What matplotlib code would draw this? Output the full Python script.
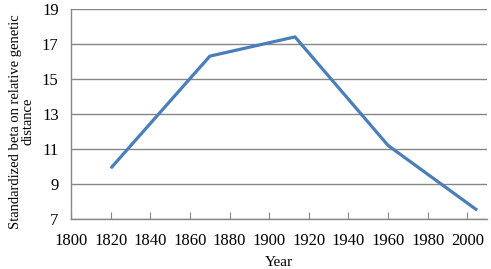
import matplotlib.pyplot as plt

# Data
years = [1820, 1870, 1913, 1960, 2005]
beta = [9.9, 16.3, 17.4, 11.2, 7.5]
xticks = list(range(1800, 2001, 20))
yticks = list(range(7, 20, 2))

plt.rcParams['font.family'] = ['Liberation Serif', 'DejaVu Serif']

fig = plt.figure(figsize=(4.91, 2.69), dpi=100)
ax = fig.add_axes([0.145, 0.186, 0.847, 0.781])

ax.plot(years, beta, color='#4a7ebb', linewidth=2.3, solid_capstyle='butt')

ax.set_xlim(1800, 2010)
ax.set_ylim(7, 19)
ax.set_xticks(xticks)
ax.set_yticks(yticks)
ax.tick_params(axis='x', direction='in', length=5, color='#868686', labelsize=12, pad=10)
ax.tick_params(axis='y', length=0, labelsize=12, pad=9)
ax.yaxis.grid(True, color='#868686', linewidth=1)
ax.set_axisbelow(True)

for s in ['top', 'right']:
    ax.spines[s].set_visible(False)
for s in ['left', 'bottom']:
    ax.spines[s].set_color('#868686')
    ax.spines[s].set_linewidth(1)

ax.set_xlabel('Year', fontsize=11, labelpad=5)
ax.set_ylabel('Standardized beta on relative genetic\ndistance', fontsize=10.5,
              linespacing=1.0)
ax.yaxis.set_label_coords(-0.088, 0.465)

fig.savefig('out.png', dpi=100)
